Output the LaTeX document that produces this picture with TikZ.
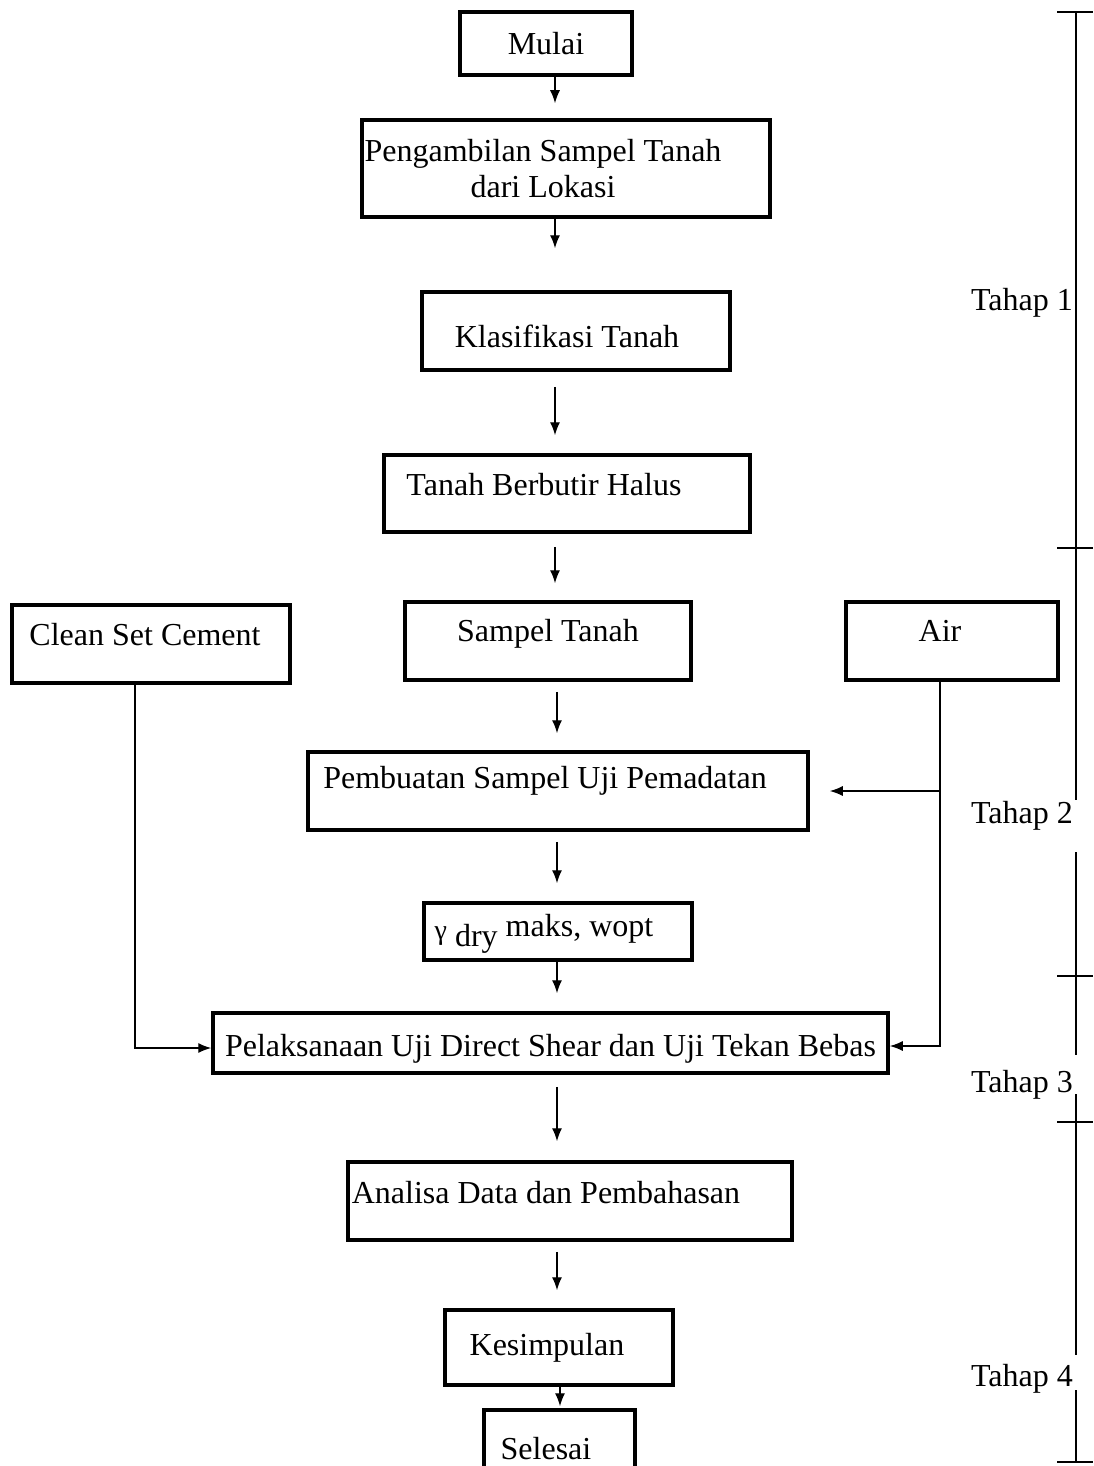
\documentclass[tikz,border=0pt]{standalone}
\usepackage{fontspec}
\setmainfont{Liberation Serif}
\usetikzlibrary{arrows.meta,calc}

\begin{document}
\begin{tikzpicture}[x=1pt,y=-1pt,
  box/.style={draw, line width=3.5pt, inner sep=0pt, font=\fontsize{32}{36}\selectfont},
  stage/.style={inner sep=0pt, font=\fontsize{32}{36}\selectfont},
  arr/.style={line width=1.4pt, -{Latex[length=13pt,width=10pt]}},
  brace/.style={line width=2pt}]

\useasboundingbox (0,0) rectangle (1093,1466);

% ----- Main column -----
\node[box, minimum width=172pt, minimum height=63pt] (mulai) at (546,43.5) {Mulai};
\node[box, minimum width=408pt, minimum height=97pt, align=center] (ambil) at (566,168.5)
  {Pengambilan Sampel Tanah\kern46pt\\dari Lokasi\kern46pt};
\node[box, minimum width=308pt, minimum height=78pt, text height=34pt] (klas) at (576,331)
  {Klasifikasi Tanah\kern18pt};
\node[box, minimum width=366pt, minimum height=77pt, text depth=18pt] (halus) at (567,493.5)
  {Tanah Berbutir Halus\kern46pt};
\node[box, minimum width=286pt, minimum height=78pt, text depth=21pt] (sampel) at (548,641)
  {Sampel Tanah};
\node[box, minimum width=500pt, minimum height=78pt, text depth=28pt] (buat) at (558,791)
  {Pembuatan Sampel Uji Pemadatan\kern26pt};
\node[box, minimum width=268pt, minimum height=57pt, text height=22pt, text depth=12pt] (gamma) at (558,931.5)
  {\raisebox{-3pt}{\fontsize{28}{30}\selectfont γ}\ \raisebox{-10pt}{dry} maks, wopt\kern28pt};
\node[box, minimum width=675pt, minimum height=60pt, text height=34pt] (laksana) at (550.5,1043)
  {Pelaksanaan Uji Direct Shear dan Uji Tekan Bebas};
\node[box, minimum width=444pt, minimum height=78pt, text depth=18pt] (analisa) at (570,1201)
  {Analisa Data dan Pembahasan\kern48pt};
\node[box, minimum width=228pt, minimum height=75pt] (simpul) at (559,1347.5)
  {Kesimpulan\kern24pt};
\node[box, minimum width=151pt, minimum height=78pt] (selesai) at (559.5,1449)
  {Selesai\kern27pt};

% ----- Side inputs -----
\node[box, minimum width=278pt, minimum height=78pt, text depth=20pt] (cement) at (151,644)
  {Clean Set Cement\kern12pt};
\node[box, minimum width=212pt, minimum height=78pt, text depth=20pt] (air) at (952,641)
  {Air\kern24pt};

% ----- Flow arrows -----
\coordinate (ax) at (555,0);
\coordinate (bx) at (557,0);
\coordinate (cx) at (135,0);
\coordinate (dx) at (940,0);

\draw[arr, shorten >=15pt] (mulai.south -| ax) -- (ambil.north -| ax);
\draw[arr, shorten >=42pt] (ambil.south -| ax) -- (klas.north -| ax);
\draw[arr, shorten <=15pt, shorten >=18pt] (klas.south -| ax) -- (halus.north -| ax);
\draw[arr, shorten <=13pt, shorten >=17pt] (halus.south -| ax) -- (sampel.north -| ax);
\draw[arr, shorten <=10pt, shorten >=17pt] (sampel.south -| bx) -- (buat.north -| bx);
\draw[arr, shorten <=10pt, shorten >=18pt] (buat.south -| bx) -- (gamma.north -| bx);
\draw[arr, shorten >=18pt] (gamma.south -| bx) -- (laksana.north -| bx);
\draw[arr, shorten <=12pt, shorten >=19pt] (laksana.south -| bx) -- (analisa.north -| bx);
\draw[arr, shorten <=10pt, shorten >=18pt] (analisa.south -| bx) -- (simpul.north -| bx);
\draw[arr, shorten >=2pt] (simpul.south -| 560,0) -- (selesai.north -| 560,0);

% cement and water lines
\draw[arr] (cement.south -| cx) |- ($(laksana.west)+(0,5)$);
\draw[arr] (air.south -| dx) |- ($(laksana.east)+(0,3)$);
\draw[arr, shorten >=20pt] (dx |- buat.east) -- (buat.east);

% ----- Stage bracket -----
\draw[brace] (1076,12) -- (1076,800);
\draw[brace] (1076,852) -- (1076,1055);
\draw[brace] (1076,1094) -- (1076,1355);
\draw[brace] (1076,1390) -- (1076,1462);
\foreach \y in {12,548,976,1122,1462}
  \draw[brace] (1057,\y) -- (1093,\y);

\foreach \k/\y in {1/303,2/816,3/1085,4/1379}
  \node[stage, anchor=east] (tahap\k) at (1073,\y) {Tahap \k};

\end{tikzpicture}
\end{document}
